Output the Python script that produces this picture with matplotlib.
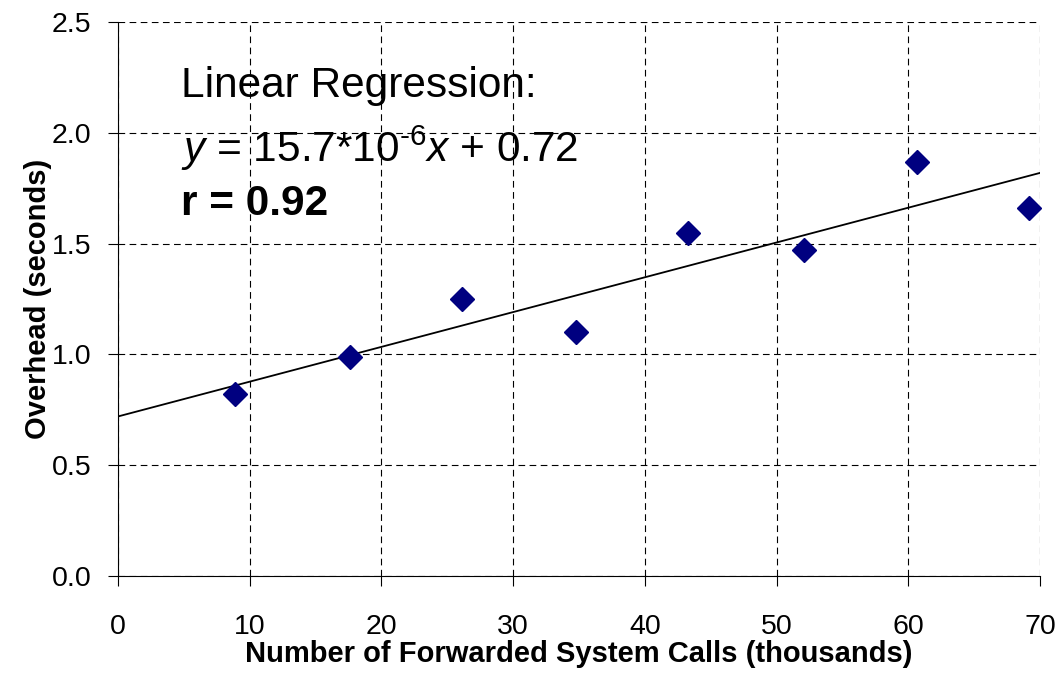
import matplotlib
matplotlib.use("Agg")
import matplotlib.pyplot as plt
import numpy as np

# forwarded system calls (thousands) vs overhead (seconds)
calls = [8.9, 17.6, 26.1, 34.8, 43.3, 52.1, 60.7, 69.2]
overhead = [0.82, 0.99, 1.25, 1.10, 1.55, 1.47, 1.87, 1.66]
slope = 15.7e-3  # per thousand calls
intercept = 0.72
xticks = [0, 10, 20, 30, 40, 50, 60, 70]
yticks = [0.0, 0.5, 1.0, 1.5, 2.0, 2.5]

plt.rcParams['font.family'] = ['Liberation Sans', 'DejaVu Sans']
plt.rcParams['mathtext.fontset'] = 'custom'
plt.rcParams['mathtext.rm'] = 'Liberation Sans'
plt.rcParams['mathtext.it'] = 'Liberation Sans:italic'

fig = plt.figure(figsize=(10.59, 6.73), dpi=100)
ax = fig.add_axes([0.1114, 0.1441, 0.8706, 0.8232])

ax.grid(True, color='black', linestyle=(0, (6, 4)), linewidth=0.8)
ax.set_axisbelow(True)

fit_x = np.array([0, 70])
ax.plot(fit_x, slope * fit_x + intercept, color='black', linewidth=1.3)
ax.plot(calls, overhead, linestyle='none', marker='D', markersize=12,
        color='#000080', clip_on=False, zorder=5)

ax.set_xlim(0, 70)
ax.set_ylim(0, 2.5)
ax.set_xticks(xticks)
ax.set_yticks(yticks)
ax.set_xticklabels([str(v) for v in xticks])
ax.set_yticklabels(['%.1f' % v for v in yticks])
ax.tick_params(labelsize=20.5, direction='out', length=7, width=0.8)
ax.tick_params(axis='x', pad=20)
ax.tick_params(axis='y', pad=12)

ax.spines['top'].set_visible(False)
ax.spines['right'].set_visible(False)

ax.set_xlabel('Number of Forwarded System Calls (thousands)', fontsize=21,
              fontweight='bold', labelpad=0)
ax.set_ylabel('Overhead (seconds)', fontsize=21, fontweight='bold', labelpad=0)

ax.text(4.8, 2.16, 'Linear Regression:', fontsize=30.5, va='baseline')
ax.text(4.8, 1.87, '$\\mathit{y}$ = 15.7*10$^{\\mathrm{\u20106}}$$\\mathit{x}$ + 0.72',
        fontsize=30.5, va='baseline')
ax.text(4.8, 1.63, 'r = 0.92', fontsize=30.5, fontweight='bold', va='baseline')

fig.savefig('out.png', dpi=100)
